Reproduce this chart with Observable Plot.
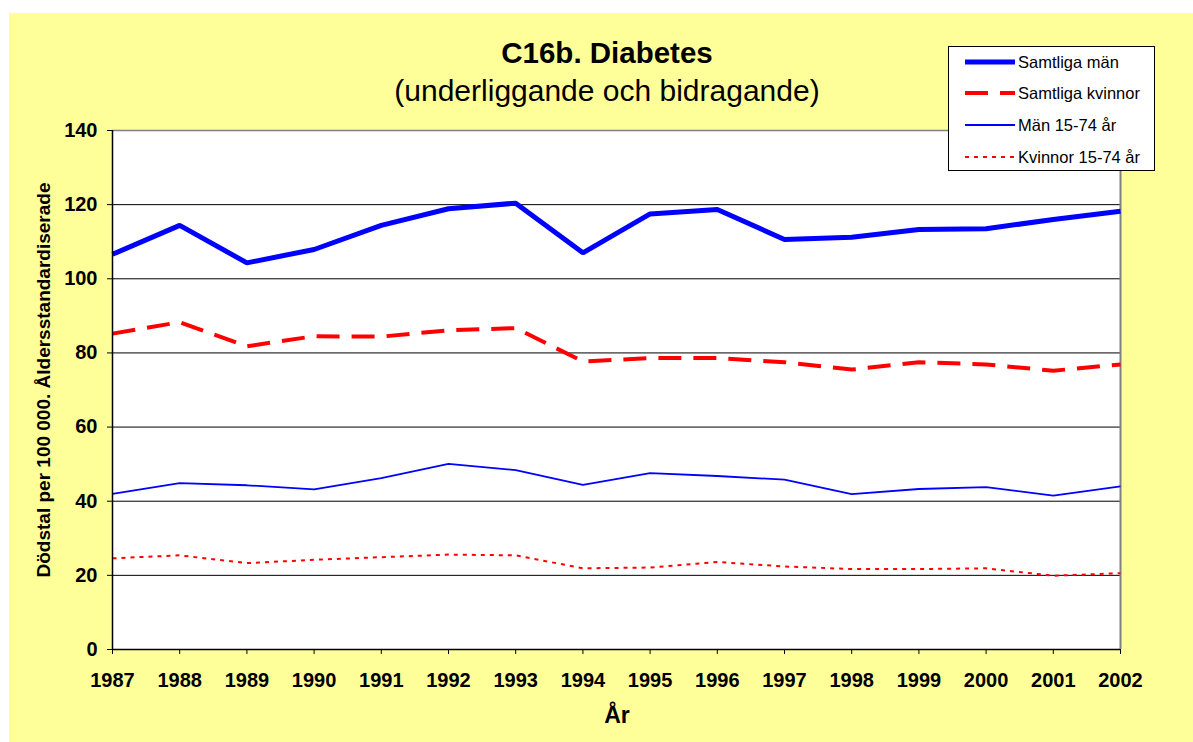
<!DOCTYPE html>
<html>
<head>
<meta charset="utf-8">
<script src="https://cdn.jsdelivr.net/npm/d3@7"></script>
<script src="https://cdn.jsdelivr.net/npm/@observablehq/plot@0.6"></script>
<style>
  html, body { margin: 0; padding: 0; background: #ffffff; }
  body { width: 1193px; height: 742px; position: relative; overflow: hidden; font-family: Arial, "Liberation Sans", sans-serif; }
  #chart { position: absolute; left: 9px; top: 13px; width: 1184px; height: 729px; background: #FFFF99; overflow: hidden; }
  #chart > svg { position: absolute; left: 0; top: 0; background: transparent; }
  .title { position: absolute; left: 0; width: 1196px; text-align: center; color: #000; white-space: nowrap; line-height: normal; }
  #t1 { top: 23px; font-size: 29.5px; font-weight: bold; }
  #t2 { top: 61px; font-size: 30px; }
  #ylab { position: absolute; left: 35px; top: 367px; transform: translate(-50%, -50%) rotate(-90deg); font-size: 19px; font-weight: bold; white-space: nowrap; }
  #xlab { position: absolute; left: 608px; top: 689px; transform: translateX(-50%); font-size: 23px; font-weight: bold; }
  #legend { position: absolute; left: 939px; top: 33px; width: 205px; height: 123px; background: #fff; border: 1px solid #000; }
  .lrow { position: absolute; left: 0; height: 22px; display: flex; align-items: center; }
  .lrow svg { display: block; width: 52px; height: 12px; margin-left: 16px; }
  .lrow span { font-size: 16.5px; margin-left: 1px; white-space: nowrap; }
</style>
</head>
<body>
<div id="chart">
  <div class="title" id="t1">C16b. Diabetes</div>
  <div class="title" id="t2">(underliggande och bidragande)</div>
  <div id="ylab">Dödstal per 100 000. Åldersstandardiserade</div>
  <div id="xlab">År</div>
  <div id="legend"></div>
</div>
<script>
const years = [1987, 1988, 1989, 1990, 1991, 1992, 1993, 1994, 1995, 1996, 1997, 1998, 1999, 2000, 2001, 2002];
const samtligaMan = [106.6, 114.4, 104.3, 107.9, 114.4, 118.9, 120.4, 107.0, 117.5, 118.7, 110.6, 111.2, 113.3, 113.5, 116.0, 118.2];
const samtligaKvinnor = [85.2, 88.3, 81.8, 84.5, 84.4, 86.1, 86.7, 77.7, 78.6, 78.6, 77.5, 75.5, 77.5, 76.9, 75.2, 76.9];
const man1574 = [42.0, 44.9, 44.3, 43.2, 46.2, 50.1, 48.4, 44.4, 47.6, 46.8, 45.8, 41.9, 43.3, 43.8, 41.5, 44.0];
const kvinnor1574 = [24.6, 25.4, 23.3, 24.2, 24.9, 25.6, 25.4, 21.9, 22.1, 23.6, 22.4, 21.7, 21.7, 21.9, 19.9, 20.6];
const yTicks = [0, 20, 40, 60, 80, 100, 120, 140];
const seriesNames = ["Samtliga män", "Samtliga kvinnor", "Män 15-74 år", "Kvinnor 15-74 år"];

const styles = {
  "Samtliga män": {stroke: "#0000FF", strokeWidth: 5, dash: null},
  "Samtliga kvinnor": {stroke: "#FF0000", strokeWidth: 4, dash: "23,12"},
  "Män 15-74 år": {stroke: "#0000FF", strokeWidth: 1.8, dash: null},
  "Kvinnor 15-74 år": {stroke: "#FF0000", strokeWidth: 2, dash: "4,5"}
};
const seriesValues = [samtligaMan, samtligaKvinnor, man1574, kvinnor1574];
const toRows = (vals) => years.map((year, i) => ({year, value: vals[i]}));

const lineMarks = [3, 2, 1, 0].map(k => {
  const s = styles[seriesNames[k]];
  return Plot.line(toRows(seriesValues[k]), {
    x: "year", y: "value", stroke: s.stroke, strokeWidth: s.strokeWidth,
    strokeDasharray: s.dash || undefined, strokeLinejoin: "miter", strokeLinecap: "butt"
  });
});

const plot = Plot.plot({
  width: 1184,
  height: 729,
  marginLeft: 103,
  marginRight: 73,
  marginTop: 117,
  marginBottom: 93,
  style: {background: "transparent", fontFamily: "Arial, 'Liberation Sans', sans-serif", overflow: "visible"},
  x: {type: "linear", domain: [1987, 2002], ticks: years},
  y: {domain: [0, 140], ticks: yTicks},
  marks: [
    Plot.frame({fill: "#ffffff", stroke: "none"}),
    Plot.ruleY(yTicks.filter(d => d > 0 && d < 140), {stroke: "#000000", strokeWidth: 1}),
    Plot.ruleY([140], {stroke: "#808080", strokeWidth: 1.5}),
    Plot.ruleX([2002], {stroke: "#808080", strokeWidth: 2}),
    Plot.axisY({ticks: yTicks, tickSize: 5, tickPadding: 10, tickFormat: d => String(d), fontSize: 20, fontWeight: "bold", label: null, stroke: "#000", color: "#000"}),
    Plot.axisX({ticks: years, tickSize: 5, tickPadding: 18, tickFormat: d => String(d), fontSize: 20, fontWeight: "bold", label: null, stroke: "#000", color: "#000"}),
    ...lineMarks,
    Plot.ruleY([0], {stroke: "#000000", strokeWidth: 1.5}),
    Plot.ruleX([1987], {stroke: "#000000", strokeWidth: 1.5})
  ]
});
document.getElementById("chart").insertBefore(plot, document.getElementById("chart").firstChild);

// Legend
const legend = document.getElementById("legend");
const rowTops = [4, 35, 67, 99];
seriesNames.forEach((name, i) => {
  const s = styles[name];
  const row = document.createElement("div");
  row.className = "lrow";
  row.style.top = rowTops[i] + "px";
  const svg = d3.create("svg").attr("width", 52).attr("height", 12);
  svg.append("line").attr("x1", 0).attr("x2", 50).attr("y1", 6).attr("y2", 6)
    .attr("stroke", s.stroke).attr("stroke-width", s.strokeWidth)
    .attr("stroke-dasharray", s.dash || null);
  row.appendChild(svg.node());
  const span = document.createElement("span");
  span.textContent = name;
  row.appendChild(span);
  legend.appendChild(row);
});
</script>
</body>
</html>
